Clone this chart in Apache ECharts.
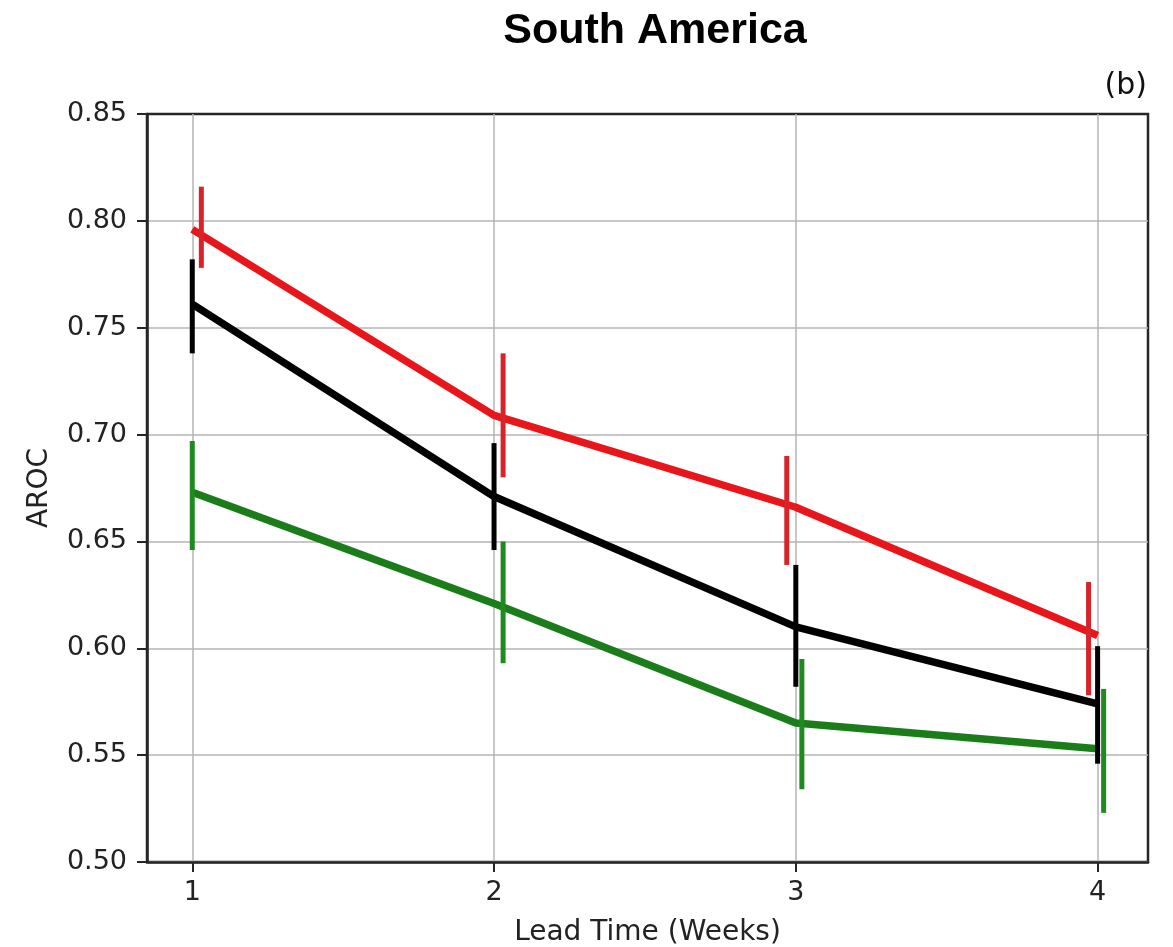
<!DOCTYPE html>
<html><head><meta charset="utf-8">
<script src="https://cdn.jsdelivr.net/npm/echarts@6/dist/echarts.min.js"></script>
<style>html,body{margin:0;padding:0;background:#fff}#c{width:1173px;height:947px}</style>
</head><body><div id="c"></div>
<script>
// ---- data ----
const leadWeeks = [1, 2, 3, 4];
const xTickLabels = ['1', '2', '3', '4'];

const redMean  = [0.796, 0.709, 0.666, 0.606];
const redLow   = [0.778, 0.680, 0.639, 0.578];
const redHigh  = [0.816, 0.738, 0.690, 0.631];
const redErrX  = [1.03, 2.03, 2.97, 3.97];

const blackMean = [0.761, 0.671, 0.610, 0.574];
const blackLow  = [0.738, 0.646, 0.582, 0.546];
const blackHigh = [0.782, 0.696, 0.639, 0.601];
const blackErrX = [1.00, 2.00, 3.00, 4.00];

const greenMean = [0.673, 0.621, 0.565, 0.553];
const greenLow  = [0.646, 0.593, 0.534, 0.523];
const greenHigh = [0.697, 0.650, 0.595, 0.581];
const greenErrX = [1.00, 2.03, 3.02, 4.02];

const RED = '#e8161b', RED_BAR = '#d9232a';
const BLACK = '#000000';
const GREEN = '#1a7d1a', GREEN_BAR = '#1f8a1f';
const AX = '#262626';

function lineSeries(vals, color) {
  return {
    type: 'line', data: leadWeeks.map((x, i) => [x, vals[i]]),
    showSymbol: false, symbol: 'none', smooth: false, z: 2,
    lineStyle: { color: color, width: 7.5, cap: 'butt', join: 'round' },
    silent: true, clip: false
  };
}
function errSeries(xs, lo, hi, color) {
  return {
    type: 'custom', z: 3, silent: true, clip: false,
    data: xs.map((x, i) => [x, lo[i], hi[i]]),
    encode: { x: 0, y: [1, 2] },
    renderItem: function (params, api) {
      const p1 = api.coord([api.value(0), api.value(1)]);
      const p2 = api.coord([api.value(0), api.value(2)]);
      return { type: 'line', shape: { x1: p1[0], y1: p1[1], x2: p2[0], y2: p2[1] },
               style: { stroke: color, lineWidth: 5 } };
    }
  };
}

const chart = echarts.init(document.getElementById('c'), null, { renderer: 'canvas' });
chart.setOption({
  animation: false,
  backgroundColor: '#ffffff',
  grid: { left: 147, right: 25, top: 114, bottom: 85, show: true, containLabel: false,
          outerBoundsMode: 'none',
          borderColor: AX, borderWidth: 2.5, backgroundColor: 'transparent' },
  graphic: [
    { type: 'text', x: 655, y: 10, z: 10,
      style: { text: 'South America', font: 'bold 43px "Liberation Sans", Arial, sans-serif', fill: '#000',
               align: 'center', verticalAlign: 'top' } },
    { type: 'text', right: 26, top: 71, z: 10,
      style: { text: '(b)', font: '30px "DejaVu Sans", sans-serif', fill: '#111' } }
  ],
  xAxis: {
    type: 'value', min: 0.85, max: 4.167,
    name: 'Lead Time (Weeks)', nameLocation: 'middle', nameGap: 57,
    nameTextStyle: { fontFamily: 'DejaVu Sans', fontSize: 28, color: '#222' },
    axisLine: { show: true, onZero: false, lineStyle: { color: AX, width: 2.5 } },
    axisTick: { show: true, length: 10, inside: false, customValues: leadWeeks,
                lineStyle: { color: AX, width: 2 } },
    axisLabel: { customValues: leadWeeks, margin: 17, fontFamily: 'DejaVu Sans', fontSize: 27, color: '#222',
                 formatter: v => xTickLabels[leadWeeks.indexOf(v)] },
    splitLine: { show: true, lineStyle: { color: '#b4b4b4', width: 1.5 } }
  },
  yAxis: {
    type: 'value', min: 0.50, max: 0.85, interval: 0.05,
    name: 'AROC', nameLocation: 'middle', nameGap: 93, nameRotate: 90,
    nameTextStyle: { fontFamily: 'DejaVu Sans', fontSize: 28, color: '#222' },
    axisLine: { show: true, onZero: false, lineStyle: { color: AX, width: 2.5 } },
    axisTick: { show: true, length: 10, inside: false, lineStyle: { color: AX, width: 2 } },
    axisLabel: { margin: 20, fontFamily: 'DejaVu Sans', fontSize: 27, color: '#222',
                 formatter: v => v.toFixed(2) },
    splitLine: { show: true, showMaxLine: false, lineStyle: { color: '#b4b4b4', width: 1.5 } }
  },
  series: [
    lineSeries(greenMean, GREEN),
    lineSeries(blackMean, BLACK),
    lineSeries(redMean, RED),
    errSeries(greenErrX, greenLow, greenHigh, GREEN_BAR),
    errSeries(blackErrX, blackLow, blackHigh, BLACK),
    errSeries(redErrX, redLow, redHigh, RED_BAR)
  ]
});
</script>
</body></html>
